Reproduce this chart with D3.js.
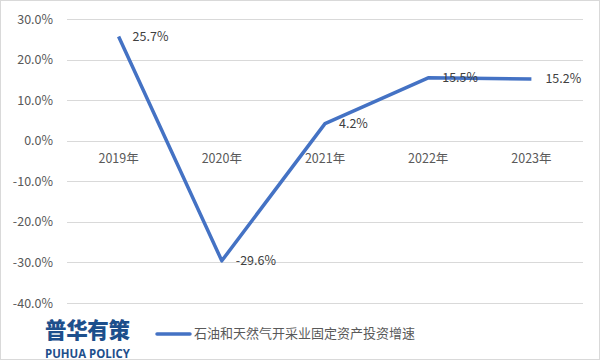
<!DOCTYPE html>
<html><head><meta charset="utf-8">
<script src="https://cdn.jsdelivr.net/npm/d3@7/dist/d3.min.js"></script>
<style>body{margin:0;background:#fff}svg{display:block}</style>
</head><body>
<svg id="c" width="601" height="361"></svg>
<script>
const categories = ["2019年","2020年","2021年","2022年","2023年"];
const values = [25.7, -29.6, 4.2, 15.5, 15.2];
const yTicks = [30,20,10,0,-10,-20,-30,-40];
const seriesName = "石油和天然气开采业固定资产投资增速";

(function(){
const svg = d3.select("#c");
const W = 601, H = 361;
svg.append("rect").attr("x",0.5).attr("y",0.5).attr("width",W-2).attr("height",H-2)
  .attr("fill","#fff").attr("stroke","#d9d9d9");

const pL = 67, pR = 583, pT = 19, pB = 303;
const x = d3.scaleBand().domain(categories).range([pL,pR]);
const y = d3.scaleLinear().domain([-40,30]).range([pB,pT]);
const font = "'Microsoft YaHei','Noto Sans CJK SC','DejaVu Sans',sans-serif";

svg.append("g").selectAll("line").data(yTicks).join("line")
  .attr("x1",pL).attr("x2",pR)
  .attr("y1",d=>Math.round(y(d))+0.5).attr("y2",d=>Math.round(y(d))+0.5)
  .attr("stroke","#d9d9d9").attr("stroke-width",1);

const yAxis = d3.axisLeft(y).tickValues(yTicks).tickSize(0).tickPadding(0)
  .tickFormat(d=>d.toFixed(1)+"%");
const ga = svg.append("g").attr("transform",`translate(${pL-14},0)`).call(yAxis);
ga.select(".domain").remove();
ga.selectAll("text").attr("font-family",font).attr("font-size",12.5).attr("fill","#595959");

const xAxis = d3.axisBottom(x).tickSize(0).tickPadding(0);
const gx = svg.append("g").attr("transform",`translate(0,${y(0)+13})`).call(xAxis);
gx.select(".domain").remove();
gx.selectAll("text").attr("font-family",font).attr("font-size",12.5).attr("fill","#595959");

const cx = c => x(c) + x.bandwidth()/2;
const line = d3.line().x((d,i)=>cx(categories[i])).y(d=>y(d));
svg.append("path").datum(values).attr("d",line).attr("fill","none")
  .attr("stroke","#4472C4").attr("stroke-width",3.5).attr("stroke-linejoin","round");

svg.append("g").selectAll("text").data(values).join("text")
  .attr("x",(d,i)=>cx(categories[i])+14).attr("y",d=>y(d)+1)
  .attr("dominant-baseline","middle")
  .attr("font-family",font).attr("font-size",12.5).attr("fill","#404040")
  .text(d=>d.toFixed(1)+"%");

svg.append("line").attr("x1",157).attr("x2",190).attr("y1",334).attr("y2",334)
  .attr("stroke","#4472C4").attr("stroke-width",3.5).attr("stroke-linecap","round");
svg.append("text").attr("x",194).attr("y",334).attr("dominant-baseline","middle")
  .attr("font-family",font).attr("font-size",13).attr("fill","#595959").text(seriesName);

svg.append("text").attr("x",45).attr("y",338).attr("font-family","'Noto Sans CJK SC',sans-serif")
  .attr("font-weight",900).attr("font-size",21.5).attr("fill","#1d4f8c").attr("textLength",85)
  .text("普华有策");
svg.append("text").attr("x",45).attr("y",358).attr("font-family","'Open Sans','Noto Sans',sans-serif")
  .attr("font-weight",700).attr("font-size",12.5).attr("fill","#1d4f8c").attr("textLength",85)
  .attr("lengthAdjust","spacingAndGlyphs").text("PUHUA POLICY");
})();
</script>
</body></html>
